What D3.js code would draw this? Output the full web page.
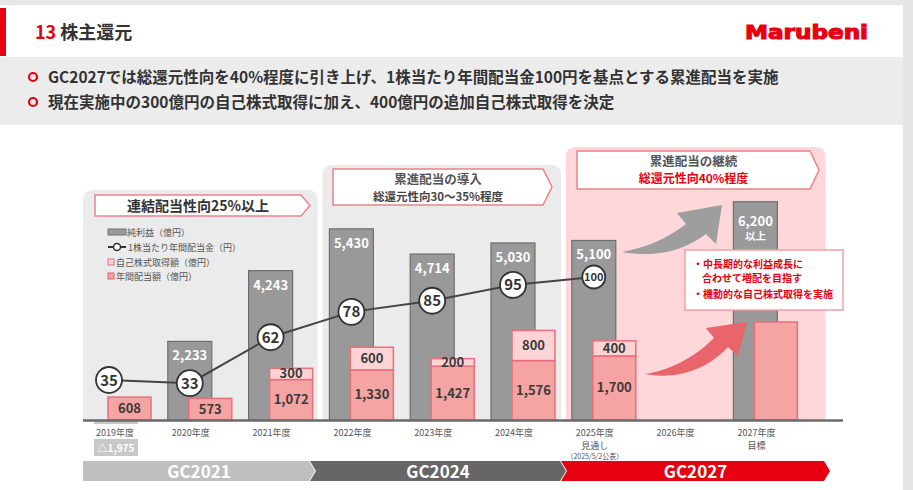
<!DOCTYPE html>
<html>
<head>
<meta charset="utf-8">
<script src="https://cdn.jsdelivr.net/npm/d3@7"></script>
<style>
body { margin: 0; background: #e6e6e6; }
svg { display: block; font-family: "Noto Sans CJK JP", "Noto Sans", sans-serif; }
</style>
</head>
<body>
<script>
var years = [2019, 2020, 2021, 2022, 2023, 2024, 2025, 2026, 2027];
var yearLabels = ["2019年度", "2020年度", "2021年度", "2022年度", "2023年度", "2024年度", "2025年度", "2026年度", "2027年度"];
var yearSubLabels = ["", "", "", "", "", "", "見通し", "", "目標"];
var netIncome = [-1975, 2233, 4243, 5430, 4714, 5030, 5100, null, 6200];
var netIncomeLabels = ["△1,975", "2,233", "4,243", "5,430", "4,714", "5,030", "5,100", "", "6,200"];
var dividends = [608, 573, 1072, 1330, 1427, 1576, 1700, null, 2600];
var buybacks = [0, 0, 300, 600, 200, 800, 400, null, 0];
var dpsYears = [2019, 2020, 2021, 2022, 2023, 2024, 2025];
var dps = [35, 33, 62, 78, 85, 95, 100];
var phases = ["GC2021", "GC2024", "GC2027"];
var phaseTitles = ["連結配当性向25%以上", "累進配当の導入", "累進配当の継続"];
var phaseSubs = ["", "総還元性向30～35%程度", "総還元性向40%程度"];

var W = 913, H = 490;
var svg = d3.select("body").append("svg").attr("width", W).attr("height", H);

// page background
svg.append("rect").attr("x", 0).attr("y", 5).attr("width", 903).attr("height", H - 5).attr("fill", "#fff");
svg.append("rect").attr("x", 0).attr("y", 8).attr("width", 6).attr("height", 48).attr("fill", "#e60012");
svg.append("text").attr("x", 35).attr("y", 39).attr("font-size", 18).attr("font-weight", "bold")
  .call(function (t) {
    t.append("tspan").attr("fill", "#e60012").text("13 ");
    t.append("tspan").attr("fill", "#333").text("株主還元");
  });
svg.append("text").attr("x", 745).attr("y", 39).attr("font-size", 19).attr("font-weight", 900)
  .attr("font-family", "DejaVu Sans").attr("fill", "#e60012").attr("stroke", "#e60012").attr("stroke-width", 1.1)
  .attr("textLength", 123).attr("lengthAdjust", "spacingAndGlyphs").text("Marubeni");

svg.append("rect").attr("x", 0).attr("y", 57).attr("width", 903).attr("height", 68).attr("fill", "#ececec");
var bullets = ["GC2027では総還元性向を40%程度に引き上げ、1株当たり年間配当金100円を基点とする累進配当を実施",
  "現在実施中の300億円の自己株式取得に加え、400億円の追加自己株式取得を決定"];
bullets.forEach(function (b, i) {
  var y = 77 + i * 25;
  svg.append("circle").attr("cx", 33).attr("cy", y).attr("r", 4).attr("fill", "none")
    .attr("stroke", "#e60012").attr("stroke-width", 2.2);
  svg.append("text").attr("x", 48).attr("y", y + 5.5).attr("font-size", 15.5).attr("font-weight", "bold")
    .attr("fill", "#333").text(b);
});

// scales
var x = d3.scaleBand().domain(years).range([87, 87 + 80.8 * years.length]).padding(0);
var yProfit = d3.scaleLinear().domain([0, 7000]).range([420, 420 - 0.0352 * 7000]);
var yReturn = d3.scaleLinear().domain([0, 3000]).range([420, 420 - 0.0377 * 3000]);
var yDps = d3.scaleLinear().domain([0, 100]).range([435.5, 277]);

// phase panels
var panels = [
  { x0: x(2019) - 4, x1: x(2021) + 69, top: 190, fill: "#ebebeb" },
  { x0: x(2022) - 7, x1: x(2024) + 70, top: 165, fill: "#ebebeb" },
  { x0: x(2025) - 6, x1: x(2027) + 92, top: 147, fill: "#fdd7d9" }
];
panels.forEach(function (p) {
  svg.append("path").attr("fill", p.fill)
    .attr("d", "M" + p.x0 + ",420 V" + (p.top + 10) + " Q" + p.x0 + "," + p.top + " " + (p.x0 + 10) + "," + p.top +
      " H" + (p.x1 - 10) + " Q" + p.x1 + "," + p.top + " " + p.x1 + "," + (p.top + 10) + " V420 Z");
});

function banner(x0, x1, y0, y1) {
  var tip = 9;
  return "M" + x0 + "," + y0 + " L" + (x1 - tip) + "," + y0 + " L" + x1 + "," + ((y0 + y1) / 2) +
    " L" + (x1 - tip) + "," + y1 + " L" + x0 + "," + y1 + " Z";
}
var banners = [
  { x0: 95, x1: 310, y0: 195, y1: 216 },
  { x0: 333, x1: 552, y0: 169, y1: 205 },
  { x0: 577, x1: 819, y0: 151, y1: 189 }
];
banners.forEach(function (b, i) {
  svg.append("path").attr("d", banner(b.x0, b.x1, b.y0, b.y1)).attr("fill", "#fff")
    .attr("stroke", "#e8848a").attr("stroke-width", 1.5);
  var cx = (b.x0 + b.x1 - 9) / 2;
  if (phaseSubs[i] === "") {
    svg.append("text").attr("x", cx).attr("y", 210.5).attr("text-anchor", "middle").attr("font-size", 14)
      .attr("font-weight", "bold").attr("fill", "#333").text(phaseTitles[i]);
  } else {
    svg.append("text").attr("x", cx).attr("y", b.y0 + 15).attr("text-anchor", "middle").attr("font-size", 12.5)
      .attr("font-weight", "bold").attr("fill", "#555").text(phaseTitles[i]);
    svg.append("text").attr("x", cx).attr("y", b.y0 + 31.5).attr("text-anchor", "middle")
      .attr("font-size", i === 2 ? 12 : 11.5).attr("font-weight", "bold")
      .attr("fill", i === 2 ? "#e60012" : "#444").text(phaseSubs[i]);
  }
});

// legend
var lg = svg.append("g").attr("font-size", 9).attr("fill", "#555");
lg.append("rect").attr("x", 108).attr("y", 229).attr("width", 18).attr("height", 6)
  .attr("fill", "#999").attr("stroke", "#707070");
lg.append("text").attr("x", 127).attr("y", 235.5).text("純利益（億円）");
lg.append("line").attr("x1", 108).attr("x2", 126).attr("y1", 247).attr("y2", 247).attr("stroke", "#333").attr("stroke-width", 2);
lg.append("circle").attr("cx", 117).attr("cy", 247).attr("r", 3.5).attr("fill", "#fff").attr("stroke", "#333").attr("stroke-width", 1.5);
lg.append("text").attr("x", 128).attr("y", 250.5).text("1株当たり年間配当金（円）");
lg.append("rect").attr("x", 108).attr("y", 259).attr("width", 6).attr("height", 6)
  .attr("fill", "#fdd3d5").attr("stroke", "#e87080");
lg.append("text").attr("x", 116).attr("y", 265.5).text("自己株式取得額（億円）");
lg.append("rect").attr("x", 108).attr("y", 273).attr("width", 6).attr("height", 6)
  .attr("fill", "#f4a0a0").attr("stroke", "#e06070");
lg.append("text").attr("x", 116).attr("y", 279.5).text("年間配当額（億円）");

// net income bars
var idx = d3.range(years.length);
svg.selectAll(".ni").data(idx.filter(function (i) { return netIncome[i] > 0; })).enter().append("rect")
  .attr("x", function (i) { return x(years[i]); })
  .attr("y", function (i) { return yProfit(netIncome[i]); })
  .attr("width", 44)
  .attr("height", function (i) { return yProfit(0) - yProfit(netIncome[i]); })
  .attr("fill", "#999").attr("stroke", "#6e6e6e").attr("stroke-width", 1.2);
svg.selectAll(".nil").data(idx.filter(function (i) { return netIncome[i] > 0; })).enter().append("text")
  .attr("x", function (i) { return x(years[i]) + 22; })
  .attr("y", function (i) { return yProfit(netIncome[i]) + (years[i] === 2027 ? 24 : 19); })
  .attr("text-anchor", "middle").attr("font-size", 13).attr("font-weight", "bold").attr("fill", "#fff")
  .text(function (i) { return netIncomeLabels[i]; });
svg.append("text").attr("x", x(2027) + 22).attr("y", yProfit(6200) + 38.5).attr("text-anchor", "middle")
  .attr("font-size", 10.5).attr("font-weight", "bold").attr("fill", "#fff").text("以上");

// negative 2019 net income
var neg = idx.filter(function (i) { return netIncome[i] < 0; });
neg.forEach(function (i) {
  svg.append("rect").attr("x", x(years[i]) + 7).attr("y", 439).attr("width", 44).attr("height", 17).attr("fill", "#c8c8c8");
  svg.append("rect").attr("x", x(years[i]) + 7).attr("y", 420).attr("width", 44).attr("height", 4).attr("fill", "#c8c8c8");
  svg.append("text").attr("x", x(years[i]) + 29).attr("y", 451.5).attr("text-anchor", "middle")
    .attr("font-size", 10).attr("font-weight", "bold").attr("fill", "#fff").text(netIncomeLabels[i]);
});

// dividends + buybacks
var ret = idx.filter(function (i) { return dividends[i] != null; });
svg.selectAll(".div").data(ret).enter().append("rect")
  .attr("x", function (i) { return x(years[i]) + 21; })
  .attr("y", function (i) { return yReturn(dividends[i]); })
  .attr("width", 43)
  .attr("height", function (i) { return yReturn(0) - yReturn(dividends[i]); })
  .attr("fill", "#f5a3a3").attr("stroke", "#e5707a").attr("stroke-width", 1.5);
svg.selectAll(".bb").data(ret.filter(function (i) { return buybacks[i] > 0; })).enter().append("rect")
  .attr("x", function (i) { return x(years[i]) + 21; })
  .attr("y", function (i) { return yReturn(dividends[i] + buybacks[i]); })
  .attr("width", 43)
  .attr("height", function (i) { return yReturn(dividends[i]) - yReturn(dividends[i] + buybacks[i]); })
  .attr("fill", "#fdd3d5").attr("stroke", "#e5707a").attr("stroke-width", 1.5);
var lbl = ret.filter(function (i) { return years[i] <= 2025; });
svg.selectAll(".divl").data(lbl).enter().append("text")
  .attr("x", function (i) { return x(years[i]) + 42.5; })
  .attr("y", function (i) { return (yReturn(0) + yReturn(dividends[i])) / 2 + 4.5; })
  .attr("text-anchor", "middle").attr("font-size", 13).attr("font-weight", "bold").attr("fill", "#3a3a3a")
  .text(function (i) { return d3.format(",")(dividends[i]); });
svg.selectAll(".bbl").data(lbl.filter(function (i) { return buybacks[i] > 0; })).enter().append("text")
  .attr("x", function (i) { return x(years[i]) + 42.5; })
  .attr("y", function (i) { return (yReturn(dividends[i]) + yReturn(dividends[i] + buybacks[i])) / 2 + 4.5; })
  .attr("text-anchor", "middle").attr("font-size", 13).attr("font-weight", "bold").attr("fill", "#3a3a3a")
  .text(function (i) { return d3.format(",")(buybacks[i]); });

// dividend per share line
var line = d3.line().x(function (d, i) { return x(dpsYears[i]) + 22; }).y(function (d) { return yDps(d); });
svg.append("path").datum(dps).attr("d", line).attr("fill", "none").attr("stroke", "#444").attr("stroke-width", 2);
var last = dps.length - 1;
var dots = svg.selectAll(".dps").data(dps).enter().append("g")
  .attr("transform", function (d, i) { return "translate(" + (x(dpsYears[i]) + 22) + "," + yDps(d) + ")"; });
dots.append("circle").attr("r", function (d, i) { return i === last ? 11.5 : 13; })
  .attr("fill", "#fff").attr("stroke", "#333").attr("stroke-width", 1.8);
dots.append("text").attr("text-anchor", "middle").attr("dy", function (d, i) { return i === last ? 4 : 5.5; })
  .attr("font-size", function (d, i) { return i === last ? 11 : 15; })
  .attr("font-weight", "bold").attr("fill", "#333").text(function (d) { return d; });

// axis baseline
svg.append("line").attr("x1", 83).attr("x2", 843).attr("y1", 420.5).attr("y2", 420.5)
  .attr("stroke", "#6a6a6a").attr("stroke-width", 2.5);

// year labels
var xl = svg.append("g").attr("font-size", 9).attr("fill", "#555").attr("text-anchor", "middle");
years.forEach(function (yv, i) {
  var cx = x(yv) + (i === 0 ? 28 : 23);
  xl.append("text").attr("x", cx).attr("y", 435.5).text(yearLabels[i]);
  if (yearSubLabels[i]) xl.append("text").attr("x", cx).attr("y", 448.5).text(yearSubLabels[i]);
});
xl.append("text").attr("x", x(2025) + 23).attr("y", 458.5).attr("font-size", 7).text("（2025/5/2公表）");

// trend arrows
svg.append("path").attr("fill", "#9e9e9e")
  .attr("d", "M622,252 C648,247 668,238 686,224 L677,213 L722,205 L716,244 L706,234 C684,251 655,258 622,252 Z");
svg.append("path").attr("fill", "#e8656b")
  .attr("d", "M645,374 C672,370 696,356 714,338 L706,328 L747,322 L738,356 L728,347 C707,370 676,380 645,374 Z");

// note box
svg.append("rect").attr("x", 685).attr("y", 250).attr("width", 158).attr("height", 60)
  .attr("fill", "#fff").attr("stroke", "#f2a0a6").attr("stroke-width", 1.5);
var notes = [["・中長期的な利益成長に", 693, 268], ["合わせて増配を目指す", 702, 282], ["・機動的な自己株式取得を実施", 693, 298]];
notes.forEach(function (n) {
  svg.append("text").attr("x", n[1]).attr("y", n[2]).attr("font-size", 10).attr("font-weight", "bold")
    .attr("fill", "#e60012").text(n[0]);
});

// medium term plan bar
var gcX = [[83, 315], [310, 566], [561, 830]];
var gcCol = ["#bfbfbf", "#666666", "#e60012"];
phases.forEach(function (p, i) {
  var a = gcX[i][0], b = gcX[i][1], t = 6;
  var d = "M" + a + ",461 L" + (b - t) + ",461 L" + b + ",471 L" + (b - t) + ",481 L" + a + ",481" +
    (i === 0 ? " Z" : " L" + (a + t) + ",471 Z");
  svg.append("path").attr("d", d).attr("fill", gcCol[i]);
  svg.append("text").attr("x", (a + b) / 2).attr("y", 477.5).attr("text-anchor", "middle")
    .attr("font-size", 17).attr("font-weight", "bold").attr("fill", "#fff").text(p);
});
</script>
</body>
</html>
